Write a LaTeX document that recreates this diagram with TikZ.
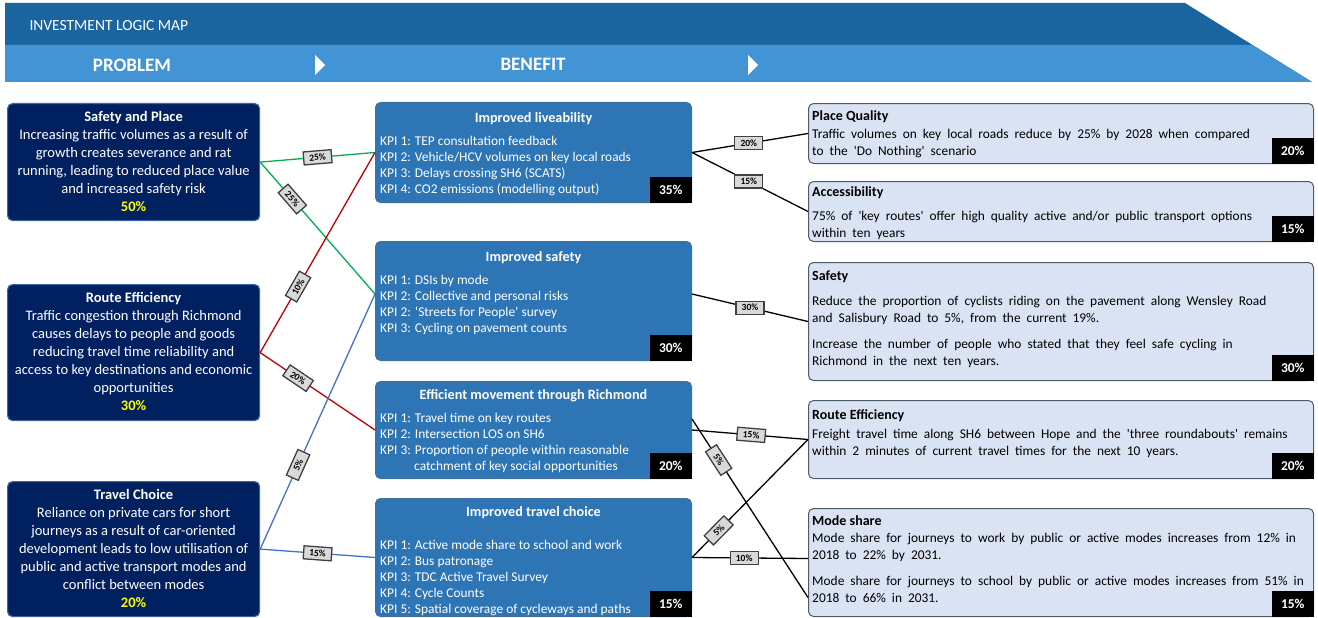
\documentclass[tikz,border=0pt]{standalone}
\usepackage{fontspec}
\setmainfont{Carlito}
\usetikzlibrary{positioning, calc}

\definecolor{hdrdark}{HTML}{1A64A0}
\definecolor{hdrlight}{HTML}{4294D4}
\definecolor{probnavy}{HTML}{002060}
\definecolor{probedge}{HTML}{3A64A8}
\definecolor{benblue}{HTML}{2E75B6}
\definecolor{benedge}{HTML}{41719C}
\definecolor{kpipale}{HTML}{DAE3F3}
\definecolor{kpiedge}{HTML}{4F5B66}
\definecolor{pctyellow}{HTML}{FFFF00}
\definecolor{linkgreen}{HTML}{00B050}
\definecolor{linkred}{HTML}{C00000}
\definecolor{linkblue}{HTML}{4472C4}
\definecolor{tagfill}{HTML}{D9D9D9}

\begin{document}
\begin{tikzpicture}[
    x=1pt, y=-1pt,
    problem/.style={draw=probedge, line width=1.2pt, fill=probnavy, rounded corners=5pt, minimum width=252pt, inner sep=0pt, anchor=north west},
    benefit/.style={draw=benedge, line width=1pt, fill=benblue, rounded corners=5pt, minimum width=316pt, inner sep=0pt, anchor=north west},
    measure/.style={draw=kpiedge, line width=1pt, fill=kpipale, rounded corners=5pt, minimum width=505pt, inner sep=0pt, anchor=north west},
    weight/.style={fill=black, text=white, font=\fontsize{13.5}{14}\selectfont\bfseries, minimum width=42pt, minimum height=26pt, inner sep=0pt, anchor=south east},
    tag/.style={draw=black!75, fill=tagfill, text=black, font=\fontsize{9.5}{10}\selectfont\bfseries, inner sep=1.5pt, minimum width=28pt, minimum height=13pt},
    probtext/.style={text=white, align=center, font=\fontsize{14.5}{18}\selectfont, anchor=north, inner sep=0pt},
    bentitle/.style={text=white, font=\fontsize{14.2}{16}\selectfont\bfseries, anchor=north, inner sep=0pt},
    bentext/.style={text=white, align=left, font=\fontsize{13.4}{16}\selectfont, anchor=north west, inner sep=0pt},
    meastitle/.style={text=black, font=\fontsize{14}{17}\selectfont\bfseries, anchor=north west, inner sep=0pt},
    meastext/.style={text=black, align=left, font=\fontsize{13.4}{17}\selectfont, execute at begin node={\spaceskip=6pt plus 1pt minus 1pt\relax}, anchor=north west, inner sep=0pt},
    link/.style={line width=1.3pt}
]
    \useasboundingbox (0,0) rectangle (1318,618);

    % Header bands
    \fill[hdrdark] (5,3) -- (1185,3) -- (1312,82) -- (5,82) -- cycle;
    \fill[hdrlight] (5,45) -- (1252,45) -- (1312,82) -- (5,82) -- cycle;
    \node[text=white, font=\fontsize{15.5}{16}\selectfont, anchor=west] (maptitle) at (26,26) {INVESTMENT LOGIC MAP};
    \node[text=white, font=\fontsize{19}{20}\selectfont\bfseries] (probhead) at (132,65) {PROBLEM};
    \node[text=white, font=\fontsize{19}{20}\selectfont\bfseries] (benhead) at (533,64) {BENEFIT};
    \fill[white] (315,55) -- (325,65) -- (315,75) -- cycle;
    \fill[white] (748,55) -- (758,65) -- (748,75) -- cycle;

    % Problem boxes
    \node[problem, minimum height=117pt] (p1) at (7,103) {};
    \node[problem, minimum height=136pt] (p2) at (7,284) {};
    \node[problem, minimum height=135pt] (p3) at (7,481) {};
    \node[probtext] (p1txt) at ($(p1.north)+(0,8.5)$) {\textbf{Safety and Place}\\
        Increasing traffic volumes as a result of\\ growth creates severance and rat\\
        running, leading to reduced place value\\ and increased safety risk\\
        \textbf{\color{pctyellow}50\%}};
    \node[probtext] (p2txt) at ($(p2.north)+(0,8.5)$) {\textbf{Route Efficiency}\\
        Traffic congestion through Richmond\\ causes delays to people and goods\\
        reducing travel time reliability and\\ access to key destinations and economic\\
        opportunities\\ \textbf{\color{pctyellow}30\%}};
    \node[probtext] (p3txt) at ($(p3.north)+(0,8.5)$) {\textbf{Travel Choice}\\
        Reliance on private cars for short\\ journeys as a result of car-oriented\\
        development leads to low utilisation of\\ public and active transport modes and\\
        conflict between modes\\ \textbf{\color{pctyellow}20\%}};

    % Benefit boxes
    \node[benefit, minimum height=100pt] (b1) at (375,102) {};
    \node[benefit, minimum height=119pt] (b2) at (375,241) {};
    \node[benefit, minimum height=97pt] (b3) at (375,381) {};
    \node[benefit, minimum height=118pt] (b4) at (375,498) {};
    \node[bentitle] (b1ttl) at ($(b1.north)+(0,10)$) {Improved liveability};
    \node[bentext] (b1kpi) at ($(b1.north west)+(5,33.5)$) {KPI 1: TEP consultation feedback\\
        KPI 2: Vehicle/HCV volumes on key local roads\\ KPI 3: Delays crossing SH6 (SCATS)\\
        KPI 4: CO2 emissions (modelling output)};
    \node[bentitle] (b2ttl) at ($(b2.north)+(0,10)$) {Improved safety};
    \node[bentext] (b2kpi) at ($(b2.north west)+(5,33.5)$) {KPI 1: DSIs by mode\\
        KPI 2: Collective and personal risks\\ KPI 2: `Streets for People' survey\\
        KPI 3: Cycling on pavement counts};
    \node[bentitle] (b3ttl) at ($(b3.north)+(0,8)$) {Efficient movement through Richmond};
    \node[bentext] (b3kpi) at ($(b3.north west)+(5,31.5)$) {KPI 1: Travel time on key routes\\
        KPI 2: Intersection LOS on SH6\\ KPI 3: Proportion of people within reasonable\\
        \hspace*{34pt}catchment of key social opportunities};
    \node[bentitle] (b4ttl) at ($(b4.north)+(0,8)$) {Improved travel choice};
    \node[bentext] (b4kpi) at ($(b4.north west)+(5,41.5)$) {KPI 1: Active mode share to school and work\\
        KPI 2: Bus patronage\\ KPI 3: TDC Active Travel Survey\\ KPI 4: Cycle Counts\\
        KPI 5: Spatial coverage of cycleways and paths};
    \node[weight] (b1w) at (b1.south east) {35\%};
    \node[weight] (b2w) at (b2.south east) {30\%};
    \node[weight] (b3w) at (b3.south east) {20\%};
    \node[weight] (b4w) at (b4.south east) {15\%};

    % Measure boxes
    \node[measure, minimum height=60pt] (r1) at (808,103) {};
    \node[measure, minimum height=60pt] (r2) at (808,181) {};
    \node[measure, minimum height=118pt] (r3) at (808,262) {};
    \node[measure, minimum height=78pt] (r4) at (808,400) {};
    \node[measure, minimum height=108pt] (r5) at (808,508) {};
    \node[meastitle] (r1ttl) at ($(r1.north west)+(4,7)$) {Place Quality};
    \node[meastext] (r1txt) at ($(r1.north west)+(4,26)$) {Traffic volumes on key local roads reduce by 25\% by 2028 when compared\\
        to the \textquotesingle Do Nothing\textquotesingle{} scenario};
    \node[meastitle] (r2ttl) at ($(r2.north west)+(4,5)$) {Accessibility};
    \node[meastext] (r2txt) at ($(r2.north west)+(4,30)$) {75\% of \textquotesingle key routes\textquotesingle{} offer high quality active and/or public transport options\\
        within ten years};
    \node[meastitle] (r3ttl) at ($(r3.north west)+(4,9)$) {Safety};
    \node[meastext] (r3txta) at ($(r3.north west)+(4,34)$) {Reduce the proportion of cyclists riding on the pavement along Wensley Road\\
        and Salisbury Road to 5\%, from the current 19\%.};
    \node[meastext] (r3txtb) at ($(r3.north west)+(4,77)$) {Increase the number of people who stated that they feel safe cycling in\\
        Richmond in the next ten years.};
    \node[meastitle] (r4ttl) at ($(r4.north west)+(4,9)$) {Route Efficiency};
    \node[meastext] (r4txt) at ($(r4.north west)+(4,29)$) {Freight travel time along SH6 between Hope and the \textquotesingle three roundabouts\textquotesingle{} remains\\
        within 2 minutes of current travel times for the next 10 years.};
    \node[meastitle] (r5ttl) at ($(r5.north west)+(4,7)$) {Mode share};
    \node[meastext] (r5txta) at ($(r5.north west)+(4,25)$) {Mode share for journeys to work by public or active modes increases from 12\% in\\
        2018 to 22\% by 2031.};
    \node[meastext] (r5txtb) at ($(r5.north west)+(4,68)$) {Mode share for journeys to school by public or active modes increases from 51\% in\\
        2018 to 66\% in 2031.};
    \node[weight] (r1w) at (r1.south east) {20\%};
    \node[weight] (r2w) at (r2.south east) {15\%};
    \node[weight] (r3w) at (r3.south east) {30\%};
    \node[weight] (r4w) at (r4.south east) {20\%};
    \node[weight] (r5w) at (r5.south east) {15\%};

    % Problem to benefit links
    \draw[link, linkgreen] (p1.east) -- node[tag, sloped] {25\%} (b1.west);
    \draw[link, linkgreen] (p1.east) -- node[tag, sloped, pos=0.28] {25\%} ([yshift=7pt]b2.west);
    \draw[link, linkred] (p2.east) -- node[tag, sloped, pos=0.33] {10\%} (b1.west);
    \draw[link, linkred] (p2.east) -- node[tag, sloped, pos=0.33] {20\%} (b3.west);
    \draw[link, linkblue] (p3.east) -- node[tag, sloped, pos=0.33] {5\%} ([yshift=7pt]b2.west);
    \draw[link, linkblue] (p3.east) -- node[tag, sloped] {15\%} (b4.west);

    % Benefit to measure links
    \draw[link] (b1.east) -- node[tag, pos=0.49] {20\%} (r1.west);
    \draw[link] (b1.east) -- node[tag, pos=0.49] {15\%} (r2.west);
    \draw[link] ([yshift=7pt]b2.east) -- node[tag] {30\%} (r3.west);
    \draw[link] (b3.east) -- node[tag, sloped, pos=0.51] {15\%} (r4.west);
    \draw[link] ([yshift=11pt]b3.east) -- node[tag, sloped, pos=0.23] {5\%} ([yshift=-35pt]r5.west);
    \draw[link] (b4.east) -- node[tag, sloped, pos=0.23] {5\%} (r4.west);
    \draw[link] (b4.east) -- node[tag, pos=0.45] {10\%} ([yshift=4pt]r5.west);
\end{tikzpicture}
\end{document}
